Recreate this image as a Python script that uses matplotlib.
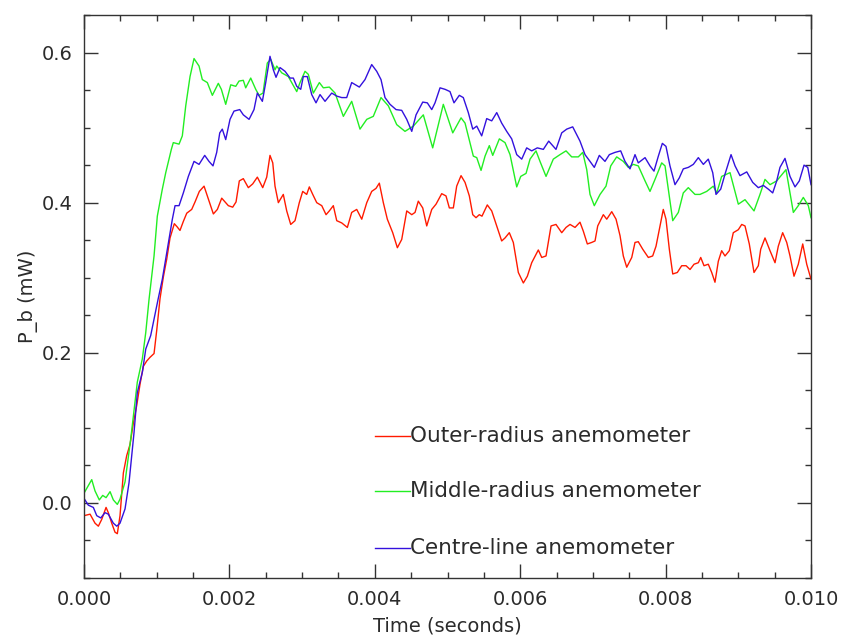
import numpy as np
import matplotlib
matplotlib.use("Agg")
import matplotlib.pyplot as plt
from matplotlib.ticker import MultipleLocator, FormatStrFormatter

# ---- data: time in milliseconds, power in mW ----
outer_t = [0.000, 0.083, 0.151, 0.197, 0.243, 0.303, 0.334, 0.381, 0.426, 0.458,
           0.495, 0.541, 0.587, 0.633, 0.678, 0.725, 0.770, 0.816, 0.862, 0.908,
           0.963, 1.000, 1.045, 1.091, 1.138, 1.183, 1.242, 1.279, 1.320, 1.366,
           1.413, 1.481, 1.527, 1.586, 1.651, 1.710, 1.779, 1.834, 1.894, 1.939,
           1.985, 2.045, 2.091, 2.136, 2.191, 2.260, 2.320, 2.384, 2.458, 2.513,
           2.558, 2.596, 2.627, 2.673, 2.741, 2.788, 2.843, 2.902, 2.961, 3.008,
           3.063, 3.099, 3.146, 3.201, 3.270, 3.329, 3.374, 3.429, 3.476, 3.545,
           3.622, 3.682, 3.751, 3.820, 3.889, 3.957, 4.016, 4.062, 4.117, 4.172,
           4.246, 4.310, 4.370, 4.439, 4.508, 4.553, 4.598, 4.659, 4.714, 4.783,
           4.842, 4.920, 4.979, 5.025, 5.080, 5.126, 5.186, 5.241, 5.300, 5.347,
           5.392, 5.437, 5.474, 5.547, 5.608, 5.677, 5.745, 5.791, 5.850, 5.905,
           5.974, 6.043, 6.098, 6.158, 6.217, 6.249, 6.296, 6.355, 6.424, 6.492,
           6.571, 6.630, 6.685, 6.754, 6.822, 6.868, 6.923, 6.983, 7.029, 7.066,
           7.143, 7.190, 7.259, 7.318, 7.373, 7.418, 7.465, 7.534, 7.579, 7.624,
           7.685, 7.762, 7.822, 7.868, 7.923, 7.968, 8.005, 8.051, 8.098, 8.161,
           8.221, 8.281, 8.336, 8.391, 8.450, 8.483, 8.528, 8.587, 8.634, 8.679,
           8.725, 8.771, 8.817, 8.876, 8.931, 9.000, 9.047, 9.092, 9.151, 9.216,
           9.275, 9.308, 9.367, 9.436, 9.505, 9.550, 9.610, 9.666, 9.711, 9.766,
           9.825, 9.886, 9.941, 10.000]
outer_p = [-0.017, -0.015, -0.027, -0.031, -0.022, -0.006, -0.013, -0.027, -0.039, -0.041,
           -0.017, 0.040, 0.063, 0.078, 0.106, 0.130, 0.158, 0.182, 0.189, 0.194,
           0.199, 0.230, 0.272, 0.301, 0.325, 0.353, 0.372, 0.368, 0.363, 0.375,
           0.386, 0.391, 0.401, 0.415, 0.422, 0.405, 0.385, 0.391, 0.406, 0.401,
           0.396, 0.394, 0.401, 0.429, 0.432, 0.420, 0.425, 0.434, 0.420, 0.434,
           0.463, 0.453, 0.422, 0.400, 0.411, 0.389, 0.371, 0.376, 0.400, 0.415,
           0.411, 0.421, 0.411, 0.400, 0.396, 0.384, 0.389, 0.396, 0.376, 0.373,
           0.367, 0.387, 0.391, 0.378, 0.400, 0.415, 0.419, 0.426, 0.400, 0.378,
           0.360, 0.340, 0.351, 0.389, 0.384, 0.387, 0.402, 0.393, 0.369, 0.391,
           0.398, 0.412, 0.409, 0.393, 0.393, 0.422, 0.436, 0.427, 0.409, 0.384,
           0.380, 0.384, 0.382, 0.397, 0.389, 0.369, 0.349, 0.353, 0.360, 0.347,
           0.307, 0.293, 0.302, 0.320, 0.331, 0.337, 0.327, 0.329, 0.369, 0.371,
           0.360, 0.367, 0.371, 0.367, 0.374, 0.362, 0.345, 0.347, 0.349, 0.369,
           0.384, 0.378, 0.388, 0.378, 0.356, 0.329, 0.314, 0.327, 0.347, 0.348,
           0.338, 0.327, 0.329, 0.342, 0.369, 0.391, 0.378, 0.338, 0.305, 0.307,
           0.316, 0.316, 0.311, 0.318, 0.320, 0.327, 0.316, 0.318, 0.307, 0.294,
           0.322, 0.336, 0.329, 0.336, 0.360, 0.364, 0.371, 0.369, 0.345, 0.307,
           0.316, 0.338, 0.353, 0.336, 0.320, 0.342, 0.360, 0.347, 0.329, 0.302,
           0.318, 0.345, 0.318, 0.298]

middle_t = [0.000, 0.059, 0.106, 0.151, 0.210, 0.257, 0.303, 0.358, 0.403, 0.458,
            0.495, 0.564, 0.642, 0.733, 0.802, 0.849, 0.894, 0.963, 1.008, 1.077,
            1.124, 1.201, 1.228, 1.307, 1.352, 1.399, 1.458, 1.513, 1.582, 1.627,
            1.696, 1.765, 1.847, 1.889, 1.949, 2.018, 2.087, 2.132, 2.191, 2.224,
            2.293, 2.362, 2.407, 2.462, 2.521, 2.568, 2.627, 2.651, 2.719, 2.810,
            2.857, 2.926, 2.971, 3.040, 3.085, 3.154, 3.237, 3.292, 3.374, 3.453,
            3.567, 3.682, 3.796, 3.889, 3.979, 4.085, 4.186, 4.301, 4.415, 4.530,
            4.667, 4.796, 4.942, 5.011, 5.072, 5.186, 5.241, 5.355, 5.402, 5.461,
            5.516, 5.575, 5.622, 5.713, 5.791, 5.860, 5.952, 6.007, 6.080, 6.135,
            6.217, 6.272, 6.355, 6.455, 6.547, 6.630, 6.708, 6.799, 6.860, 6.915,
            6.960, 7.019, 7.098, 7.180, 7.245, 7.327, 7.418, 7.487, 7.556, 7.624,
            7.717, 7.785, 7.854, 7.946, 7.992, 8.098, 8.175, 8.243, 8.312, 8.404,
            8.473, 8.565, 8.656, 8.703, 8.771, 8.886, 9.000, 9.092, 9.216, 9.298,
            9.367, 9.436, 9.528, 9.656, 9.757, 9.825, 9.894, 9.963, 10.000]
middle_p = [0.013, 0.023, 0.031, 0.016, 0.004, 0.010, 0.007, 0.015, 0.004, -0.002,
            0.005, 0.028, 0.085, 0.161, 0.192, 0.227, 0.271, 0.329, 0.382, 0.418,
            0.440, 0.471, 0.480, 0.478, 0.489, 0.529, 0.568, 0.592, 0.582, 0.564,
            0.560, 0.543, 0.559, 0.551, 0.531, 0.557, 0.555, 0.562, 0.563, 0.553,
            0.566, 0.551, 0.543, 0.546, 0.586, 0.591, 0.577, 0.582, 0.573, 0.568,
            0.560, 0.548, 0.560, 0.575, 0.571, 0.546, 0.560, 0.553, 0.554, 0.546,
            0.515, 0.535, 0.498, 0.511, 0.515, 0.540, 0.529, 0.504, 0.495, 0.502,
            0.517, 0.473, 0.531, 0.511, 0.493, 0.513, 0.506, 0.462, 0.460, 0.443,
            0.462, 0.476, 0.463, 0.485, 0.480, 0.464, 0.421, 0.435, 0.439, 0.458,
            0.469, 0.455, 0.435, 0.458, 0.464, 0.469, 0.461, 0.461, 0.467, 0.444,
            0.411, 0.396, 0.411, 0.422, 0.449, 0.461, 0.455, 0.447, 0.451, 0.449,
            0.429, 0.415, 0.431, 0.453, 0.449, 0.376, 0.387, 0.413, 0.420, 0.411,
            0.411, 0.415, 0.422, 0.413, 0.435, 0.440, 0.398, 0.404, 0.389, 0.411,
            0.431, 0.424, 0.429, 0.444, 0.387, 0.396, 0.407, 0.396, 0.380]

centre_t = [0.000, 0.059, 0.128, 0.175, 0.230, 0.289, 0.334, 0.403, 0.450, 0.495,
            0.564, 0.619, 0.688, 0.733, 0.802, 0.849, 0.917, 0.963, 1.018, 1.077,
            1.124, 1.169, 1.215, 1.252, 1.307, 1.366, 1.435, 1.513, 1.582, 1.660,
            1.719, 1.774, 1.825, 1.867, 1.902, 1.949, 2.008, 2.063, 2.142, 2.191,
            2.270, 2.338, 2.384, 2.453, 2.499, 2.558, 2.604, 2.641, 2.696, 2.765,
            2.834, 2.879, 2.926, 2.981, 3.016, 3.071, 3.132, 3.191, 3.246, 3.315,
            3.407, 3.476, 3.545, 3.613, 3.682, 3.787, 3.865, 3.957, 4.026, 4.085,
            4.140, 4.209, 4.292, 4.370, 4.439, 4.508, 4.567, 4.659, 4.722, 4.783,
            4.828, 4.897, 4.966, 5.034, 5.089, 5.162, 5.217, 5.286, 5.347, 5.402,
            5.470, 5.539, 5.608, 5.677, 5.745, 5.814, 5.883, 5.952, 6.021, 6.089,
            6.158, 6.235, 6.318, 6.392, 6.492, 6.571, 6.640, 6.722, 6.822, 6.891,
            6.960, 7.019, 7.088, 7.166, 7.226, 7.304, 7.382, 7.441, 7.510, 7.579,
            7.624, 7.717, 7.785, 7.840, 7.900, 7.955, 8.005, 8.060, 8.129, 8.188,
            8.243, 8.312, 8.381, 8.450, 8.519, 8.587, 8.648, 8.693, 8.758, 8.817,
            8.900, 8.955, 9.023, 9.116, 9.198, 9.275, 9.344, 9.413, 9.473, 9.528,
            9.573, 9.642, 9.711, 9.780, 9.839, 9.904, 9.955, 10.000]
centre_p = [0.006, -0.003, -0.006, -0.017, -0.020, -0.013, -0.015, -0.027, -0.031, -0.027,
            -0.008, 0.027, 0.094, 0.147, 0.174, 0.205, 0.223, 0.245, 0.271, 0.298,
            0.325, 0.351, 0.378, 0.396, 0.396, 0.413, 0.435, 0.455, 0.451, 0.463,
            0.455, 0.449, 0.467, 0.493, 0.498, 0.484, 0.511, 0.522, 0.524, 0.517,
            0.511, 0.524, 0.546, 0.535, 0.560, 0.595, 0.577, 0.567, 0.580, 0.575,
            0.566, 0.566, 0.555, 0.551, 0.568, 0.568, 0.544, 0.533, 0.544, 0.535,
            0.546, 0.542, 0.540, 0.540, 0.560, 0.554, 0.564, 0.584, 0.575, 0.564,
            0.540, 0.531, 0.524, 0.523, 0.511, 0.495, 0.517, 0.534, 0.533, 0.524,
            0.533, 0.553, 0.551, 0.548, 0.533, 0.543, 0.540, 0.520, 0.498, 0.502,
            0.489, 0.512, 0.509, 0.520, 0.506, 0.495, 0.485, 0.464, 0.458, 0.473,
            0.469, 0.473, 0.471, 0.482, 0.471, 0.493, 0.498, 0.501, 0.482, 0.464,
            0.455, 0.447, 0.463, 0.455, 0.464, 0.467, 0.469, 0.455, 0.445, 0.464,
            0.453, 0.460, 0.449, 0.442, 0.462, 0.479, 0.475, 0.449, 0.424, 0.433,
            0.445, 0.447, 0.451, 0.460, 0.451, 0.458, 0.440, 0.411, 0.418, 0.438,
            0.464, 0.449, 0.436, 0.441, 0.427, 0.420, 0.423, 0.418, 0.413, 0.429,
            0.447, 0.459, 0.435, 0.421, 0.429, 0.450, 0.447, 0.424]

labels = ["Outer-radius anemometer", "Middle-radius anemometer", "Centre-line anemometer"]
colors = ["#ff1a00", "#22ee22", "#3311dd"]

series = [(outer_t, outer_p), (middle_t, middle_p), (centre_t, centre_p)]

plt.rcParams["font.family"] = ["DejaVu Sans"]
text_color = "#2b2b2b"

fig = plt.figure(figsize=(8.42, 6.39), dpi=100)
ax = fig.add_axes([0.0998, 0.0955, 0.8634, 0.881])

for (t_ms, p), c in zip(series, colors):
    ax.plot(np.asarray(t_ms) * 1e-3, p, color=c, lw=1.0)

ax.set_xlim(0.0, 0.010)
ax.set_ylim(-0.1, 0.65)

ax.xaxis.set_major_locator(MultipleLocator(0.002))
ax.xaxis.set_minor_locator(MultipleLocator(0.0005))
ax.yaxis.set_major_locator(MultipleLocator(0.2))
ax.yaxis.set_minor_locator(MultipleLocator(0.05))
ax.xaxis.set_major_formatter(FormatStrFormatter("%.3f"))
ax.yaxis.set_major_formatter(FormatStrFormatter("%.1f"))

ax.tick_params(which="both", direction="in", top=True, right=True,
               color="#333333", width=1.0, labelsize=14, labelcolor=text_color)
ax.tick_params(which="major", length=10)
ax.tick_params(which="minor", length=4.5)
ax.tick_params(axis="x", which="major", pad=9)
ax.tick_params(axis="y", which="major", pad=8)

for s in ax.spines.values():
    s.set_color("#333333")
    s.set_linewidth(1.0)

ax.set_xlabel("Time (seconds)", fontsize=14, color=text_color, labelpad=5)
ax.set_ylabel("P_b (mW)", fontsize=14, color=text_color, labelpad=3)

# legend: short line segment followed by the label
leg_y = [0.252, 0.1545, 0.0533]
for lab, c, yy in zip(labels, colors, leg_y):
    ax.plot([0.400, 0.448], [yy, yy], color=c, lw=1.0, transform=ax.transAxes)
    ax.text(0.449, yy, lab, transform=ax.transAxes, fontsize=15.5,
            va="center", ha="left", color=text_color)

fig.savefig("out.png", dpi=100, facecolor="white")
